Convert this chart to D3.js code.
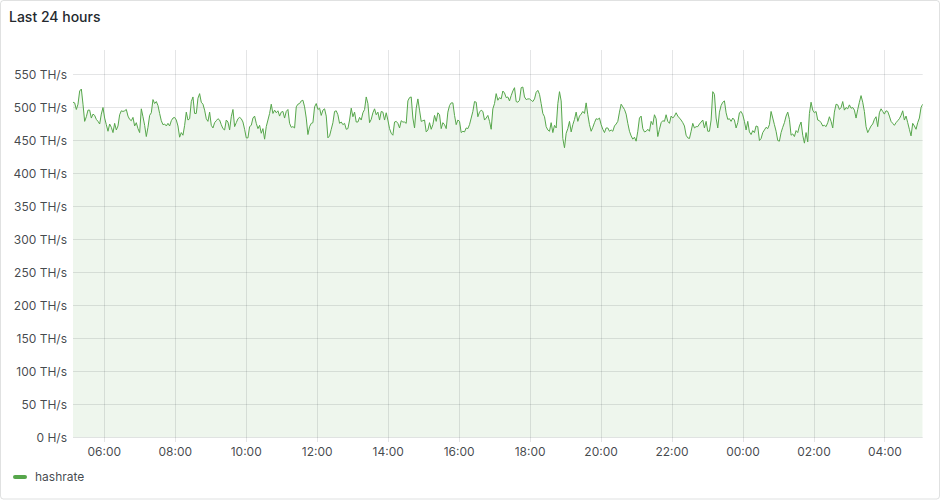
<!DOCTYPE html>
<html><head><meta charset="utf-8">
<script src="https://cdn.jsdelivr.net/npm/d3@7"></script>
<style>
html,body{margin:0;padding:0;background:#fff;}
svg{display:block;font-family:Inter,"Open Sans",sans-serif;}
</style></head><body>
<svg id="chart" width="940" height="500"></svg>
<script>
// ---------------- data ----------------
const panelTitle = "Last 24 hours";
const seriesName = "hashrate";
const startTime = new Date(2024, 0, 1, 5, 7, 6);   // first sample
const intervalMinutes = 2.817;                    // sampling interval
const yTickValues = [0, 50, 100, 150, 200, 250, 300, 350, 400, 450, 500, 550];
const yTickLabels = ["0 H/s", "50 TH/s", "100 TH/s", "150 TH/s", "200 TH/s", "250 TH/s",
  "300 TH/s", "350 TH/s", "400 TH/s", "450 TH/s", "500 TH/s", "550 TH/s"];
const xTickLabels = ["06:00", "08:00", "10:00", "12:00", "14:00", "16:00", "18:00",
  "20:00", "22:00", "00:00", "02:00", "04:00"];

// hashrate in TH/s, in time order
const hashrate1 = [508,507,497,505,525,528,505,479,486,496,496,484,490,488,482,479,475,490,500,484,
  474,464,475,470,462,476,466,472,489,495,494,495,497,487,482,480,485,472,477,468,
  462,498,486,473,456,470,488,492,512,506,509,503,491,480,474,475,472,476,472,480,
  484,485,481,472,455];
const hashrate2 = [462,458,473,493,481,483,509,516,491,491,514,521,508,505,496,483,479,493,473,469,
  477,480,483,481,474,468,466,481,478,466,486,497,471,477,483,485,483,478,467,454,
  454,471,473,484,487,476,468,473,461,468,452,471,481,491,505,491,496,492,495,487,
  493,494,484];
const hashrate3 = [494,497,476,470,471,469,501,505,506,510,511,501,484,459,471,476,477,501,506,497,
  499,488,496,498,487,454,457,467,477,494,495,489,476,478,474,476,467,468,481,499,
  486,493,478,478,485,481,492,497,516,506,477,482,492,498,489,493,481,494,493,481,
  492,481,468];
const hashrate4 = [461,458,478,479,476,469,480,478,478,476,510,515,516,484,469,499,513,496,479,480,
  481,463,466,477,467,474,488,479,492,489,468,477,474,468,493,503,507,507,488,474,
  481,479,462,464,463,469,468,474,484,494,509,508,486,493,496,494,481,484,488,479,
  467,498,506];
const hashrate5 = [521,511,515,513,525,522,515,516,510,518,525,530,509,508,511,530,531,516,512,513,
  513,511,509,513,523,526,520,506,491,486,471,466,464,477,462,473,469,506,524,510,
  453,439,461,468,479,463,474,482,493,479,487,490,494,491,507,489,474,464,470,477,
  483,482,484];
const hashrate6 = [474,467,462,469,469,464,466,464,472,475,479,493,505,501,497,490,476,464,457,452,
  455,449,464,484,487,468,463,464,467,464,479,474,489,483,456,467,477,480,479,489,
  479,476,487,484,487,492,487,484,481,477,472,458,454,453,464,476,469,471,471,475,
  478,481,469];
const hashrate7 = [479,464,464,481,524,520,484,469,493,503,508,510,492,482,483,479,484,481,469,477,
  492,494,489,479,466,479,463,459,465,462,472,471,450,453,462,466,470,468,474,494,
  484,474,464,450,449,462,470,477,487,493,482,458,460,456,465,462,472,478,458,446,
  462,448,491];
const hashrate8 = [508,496,492,494,481,480,477,472,473,471,477,486,479,469,493,505,504,497,500,509,
  496,500,498,504,499,500,496,484,497,508,518,508,494,471,462,467,472,475,482,486,
  471,492,498,494,490,495,494,487,479,476,473,477,480,483,488,495,481,487,477,467,
  457,476,472,467,477,484,500,505];

// ---------------- build ----------------
const values = [].concat(hashrate1, hashrate2, hashrate3, hashrate4,
  hashrate5, hashrate6, hashrate7, hashrate8);
const series = values.map((v, i) => ({
  t: new Date(startTime.getTime() + i * intervalMinutes * 60000),
  v: v
}));

const W = 940, H = 500;
const plot = {left: 73, right: 922.7, top: 50, bottom: 437.5};
const lineColor = "#56A64B";
const gridColor = "rgba(36,41,46,0.12)";
const textColor = "rgba(36,41,46,0.85)";

const svg = d3.select("#chart");

// panel
svg.append("rect").attr("x", 0.5).attr("y", 0.5).attr("width", W - 1).attr("height", H - 1.5)
  .attr("rx", 3).attr("fill", "#fff").attr("stroke", "rgba(36,41,46,0.14)");

svg.append("text").attr("x", 9).attr("y", 17).attr("dy", "0.35em")
  .attr("font-size", 14).attr("font-weight", 500).attr("fill", "#24292e")
  .text(panelTitle);

const x = d3.scaleTime()
  .domain([series[0].t, series[series.length - 1].t])
  .range([plot.left, plot.right]);
const y = d3.scaleLinear().domain([0, 550]).range([plot.bottom, 74.5]);

// x tick dates from labels
const xTickDates = xTickLabels.map(s => {
  const [h, m] = s.split(":").map(Number);
  const d = new Date(startTime);
  if (h < startTime.getHours()) d.setDate(d.getDate() + 1);
  d.setHours(h, m, 0, 0);
  return d;
});

// area + line
const clipId = "plotclip";
svg.append("clipPath").attr("id", clipId).append("rect")
  .attr("x", plot.left).attr("y", plot.top)
  .attr("width", plot.right - plot.left).attr("height", plot.bottom - plot.top);

const area = d3.area().x(d => x(d.t)).y0(y(0)).y1(d => y(d.v));
const line = d3.line().x(d => x(d.t)).y(d => y(d.v));

svg.append("path").datum(series).attr("d", area)
  .attr("fill", lineColor).attr("fill-opacity", 0.1).attr("clip-path", `url(#${clipId})`);

// grid
const grid = svg.append("g");
grid.selectAll("line.h").data(yTickValues).join("line").attr("class", "h")
  .attr("x1", plot.left).attr("x2", plot.right)
  .attr("y1", d => Math.round(y(d) - 0.5) + 0.5).attr("y2", d => Math.round(y(d) - 0.5) + 0.5)
  .attr("stroke", gridColor);
grid.selectAll("line.v").data(xTickDates).join("line").attr("class", "v")
  .attr("x1", d => Math.floor(x(d)) + 0.5).attr("x2", d => Math.floor(x(d)) + 0.5)
  .attr("y1", plot.top).attr("y2", plot.bottom + 4.5)
  .attr("stroke", gridColor);

svg.append("path").datum(series).attr("d", line)
  .attr("fill", "none").attr("stroke", lineColor).attr("stroke-width", 1)
  .attr("stroke-linejoin", "round").attr("clip-path", `url(#${clipId})`);

// y labels
svg.append("g").selectAll("text").data(yTickValues).join("text")
  .attr("x", 67).attr("y", d => y(d)).attr("dy", "0.35em")
  .attr("text-anchor", "end").attr("font-size", 12).attr("fill", textColor)
  .text((d, i) => yTickLabels[i]);

// x labels
svg.append("g").selectAll("text").data(xTickDates).join("text")
  .attr("x", d => x(d)).attr("y", 452).attr("dy", "0.35em")
  .attr("text-anchor", "middle").attr("font-size", 12).attr("fill", textColor)
  .text((d, i) => xTickLabels[i]);

// legend
svg.append("rect").attr("x", 13).attr("y", 475).attr("width", 14).attr("height", 4)
  .attr("rx", 2).attr("fill", lineColor);
svg.append("text").attr("x", 35).attr("y", 477).attr("dy", "0.35em")
  .attr("font-size", 12).attr("fill", textColor).text(seriesName);
</script>
</body></html>
